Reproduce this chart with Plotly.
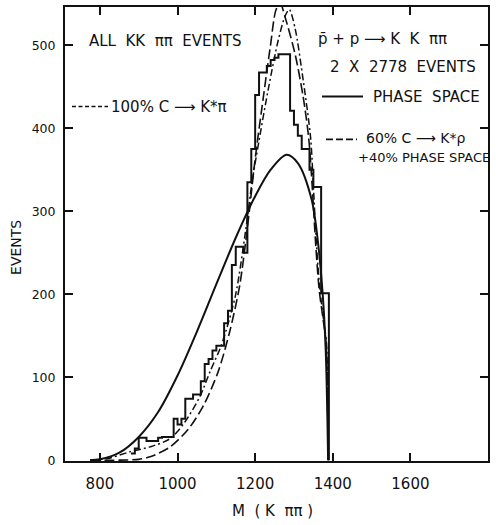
import plotly.graph_objects as go

# ---------------- data ----------------
# histogram: 10 MeV bins, left edges
hist_left_edges = [880, 890, 900, 910, 920, 930, 940, 950, 960, 970, 980, 990,
                   1000, 1010, 1020, 1030, 1040, 1050, 1060, 1070, 1080, 1090,
                   1100, 1110, 1120, 1130, 1140, 1150, 1160, 1170, 1180, 1190,
                   1200, 1210, 1220, 1230, 1240, 1250, 1260, 1270, 1280, 1290,
                   1300, 1310, 1320, 1330, 1340, 1350, 1360, 1370, 1380]
hist_counts = [8, 14, 27, 27, 23, 23, 23, 27, 28, 28, 28, 50,
               43, 50, 74, 74, 79, 79, 95, 116, 122, 132,
               138, 138, 165, 180, 235, 257, 257, 250, 335, 375,
               440, 467, 467, 475, 482, 485, 489, 489, 489, 421,
               404, 391, 375, 375, 350, 329, 329, 201, 201]
hist_bin_width = 10

# phase space (solid)
ps_mass = [775, 800, 850, 900, 950, 1000, 1050, 1100, 1150, 1200, 1240, 1281,
           1310, 1345, 1362, 1374, 1382, 1388]
ps_events = [0, 1, 9, 28, 58, 102, 155, 212, 268, 318, 350, 368,
             358, 315, 262, 200, 130, 0]

# 100% C -> K* pi
kpi_mass = [775, 850, 900, 929, 981, 1027, 1066, 1105, 1135, 1160, 1180, 1200,
            1221, 1239, 1254, 1265, 1277, 1303, 1324, 1338, 1347, 1356, 1365,
            1375, 1383, 1388]
kpi_events = [0, 0, 1, 4, 16, 37, 65, 107, 156, 210, 280, 363,
              437, 498, 543, 550, 534, 489, 437, 388, 330, 260, 205,
              170, 140, 0]

# 60% C -> K* rho + 40% phase space
mix_mass = [775, 820, 877, 929, 981, 1019, 1058, 1084, 1110, 1125, 1150, 1175,
            1192, 1210, 1233, 1259, 1277, 1288, 1303, 1324, 1343, 1350, 1358,
            1367, 1376, 1384, 1388]
mix_events = [0, 2, 10, 16, 26, 46, 77, 107, 135, 156, 200, 275,
              335, 385, 445, 505, 535, 543, 520, 457, 388, 330, 260,
              205, 170, 140, 0]

x_ticks = [800, 1000, 1200, 1400, 1600]
x_tick_labels = ["800", "1000", "1200", "1400", "1600"]
y_ticks = [0, 100, 200, 300, 400, 500]
y_tick_labels = ["0", "100", "200", "300", "400", "500"]

# ---------------- figure ----------------
FONT = "DejaVu Sans"
INK = "#111111"

hx = hist_left_edges + [hist_left_edges[-1] + hist_bin_width, hist_left_edges[-1] + hist_bin_width]
hy = hist_counts + [hist_counts[-1], 0]

fig = go.Figure()
fig.add_trace(go.Scatter(x=hx, y=hy, mode="lines", line=dict(shape="hv", color=INK, width=2),
                         name="data", showlegend=False))
fig.add_trace(go.Scatter(x=ps_mass, y=ps_events, mode="lines",
                         line=dict(shape="spline", smoothing=0.9, color=INK, width=2),
                         name="PHASE SPACE", showlegend=False))
fig.add_trace(go.Scatter(x=kpi_mass, y=kpi_events, mode="lines",
                         line=dict(shape="spline", smoothing=0.8, color=INK, width=1.6, dash="10px,4px"),
                         name="100% C → K*π", showlegend=False))
fig.add_trace(go.Scatter(x=mix_mass, y=mix_events, mode="lines",
                         line=dict(shape="spline", smoothing=0.8, color=INK, width=1.5, dash="7px,3px,2px,3px"),
                         name="60% C → K*ρ + 40% PHASE SPACE", showlegend=False))

L, R, T, B = 65, 8, 5, 64
W, H = 496, 525
pw, ph = W - L - R, H - T - B


def px(xp):
    return (xp - L) / pw


def py(yp):
    return (H - B - yp) / ph


def note(text, xp, yp, anchor="left", size=15, angle=0):
    fig.add_annotation(text=text, x=px(xp), y=py(yp), xref="paper", yref="paper",
                       xanchor=anchor, yanchor="middle", showarrow=False, textangle=angle,
                       font=dict(family=FONT, size=size, color=INK))


def sample(x0, x1, yp, dash, width=1.6):
    fig.add_shape(type="line", xref="paper", yref="paper", x0=px(x0), x1=px(x1), y0=py(yp), y1=py(yp),
                  line=dict(color=INK, width=width, dash=dash))


note("ALL  KK  ππ  EVENTS", 87, 39)
note("p̄ + p ⟶ K  K  ππ", 316, 37)
note("2  X  2778  EVENTS", 328, 65)
sample(322, 363, 95, "solid", 2)
note("PHASE  SPACE", 371, 95)
sample(326, 357, 138, "7px,3px")
note("60% C ⟶ K*ρ", 364, 137, size=14)
note("+40% PHASE SPACE", 356, 156, size=13)
sample(72, 108, 105, "4px,2.5px")
note("100% C ⟶ K*π", 109, 105, size=15)

# axis titles
note("EVENTS", 16, 247, anchor="center", size=14, angle=-90)
note("M  ( K  ππ )", 272, 511, anchor="center", size=15)

axis_common = dict(showline=True, linecolor=INK, linewidth=2, mirror="ticks", ticks="inside",
                   ticklen=8, tickwidth=1.5, tickcolor=INK, showgrid=False, zeroline=False)

fig.update_xaxes(range=[710, 1800], tickvals=x_ticks, ticktext=x_tick_labels,
                 ticklabelstandoff=8, tickfont=dict(family=FONT, size=15, color=INK),
                 **axis_common)
fig.update_yaxes(range=[-1, 546], tickvals=y_ticks, ticktext=y_tick_labels,
                 ticklabelstandoff=5, tickfont=dict(family=FONT, size=12.5, color=INK),
                 **axis_common)

fig.update_layout(width=W, height=H, margin=dict(l=L, r=R, t=T, b=B),
                  paper_bgcolor="white", plot_bgcolor="white", showlegend=False)

fig.write_html("out.html")
